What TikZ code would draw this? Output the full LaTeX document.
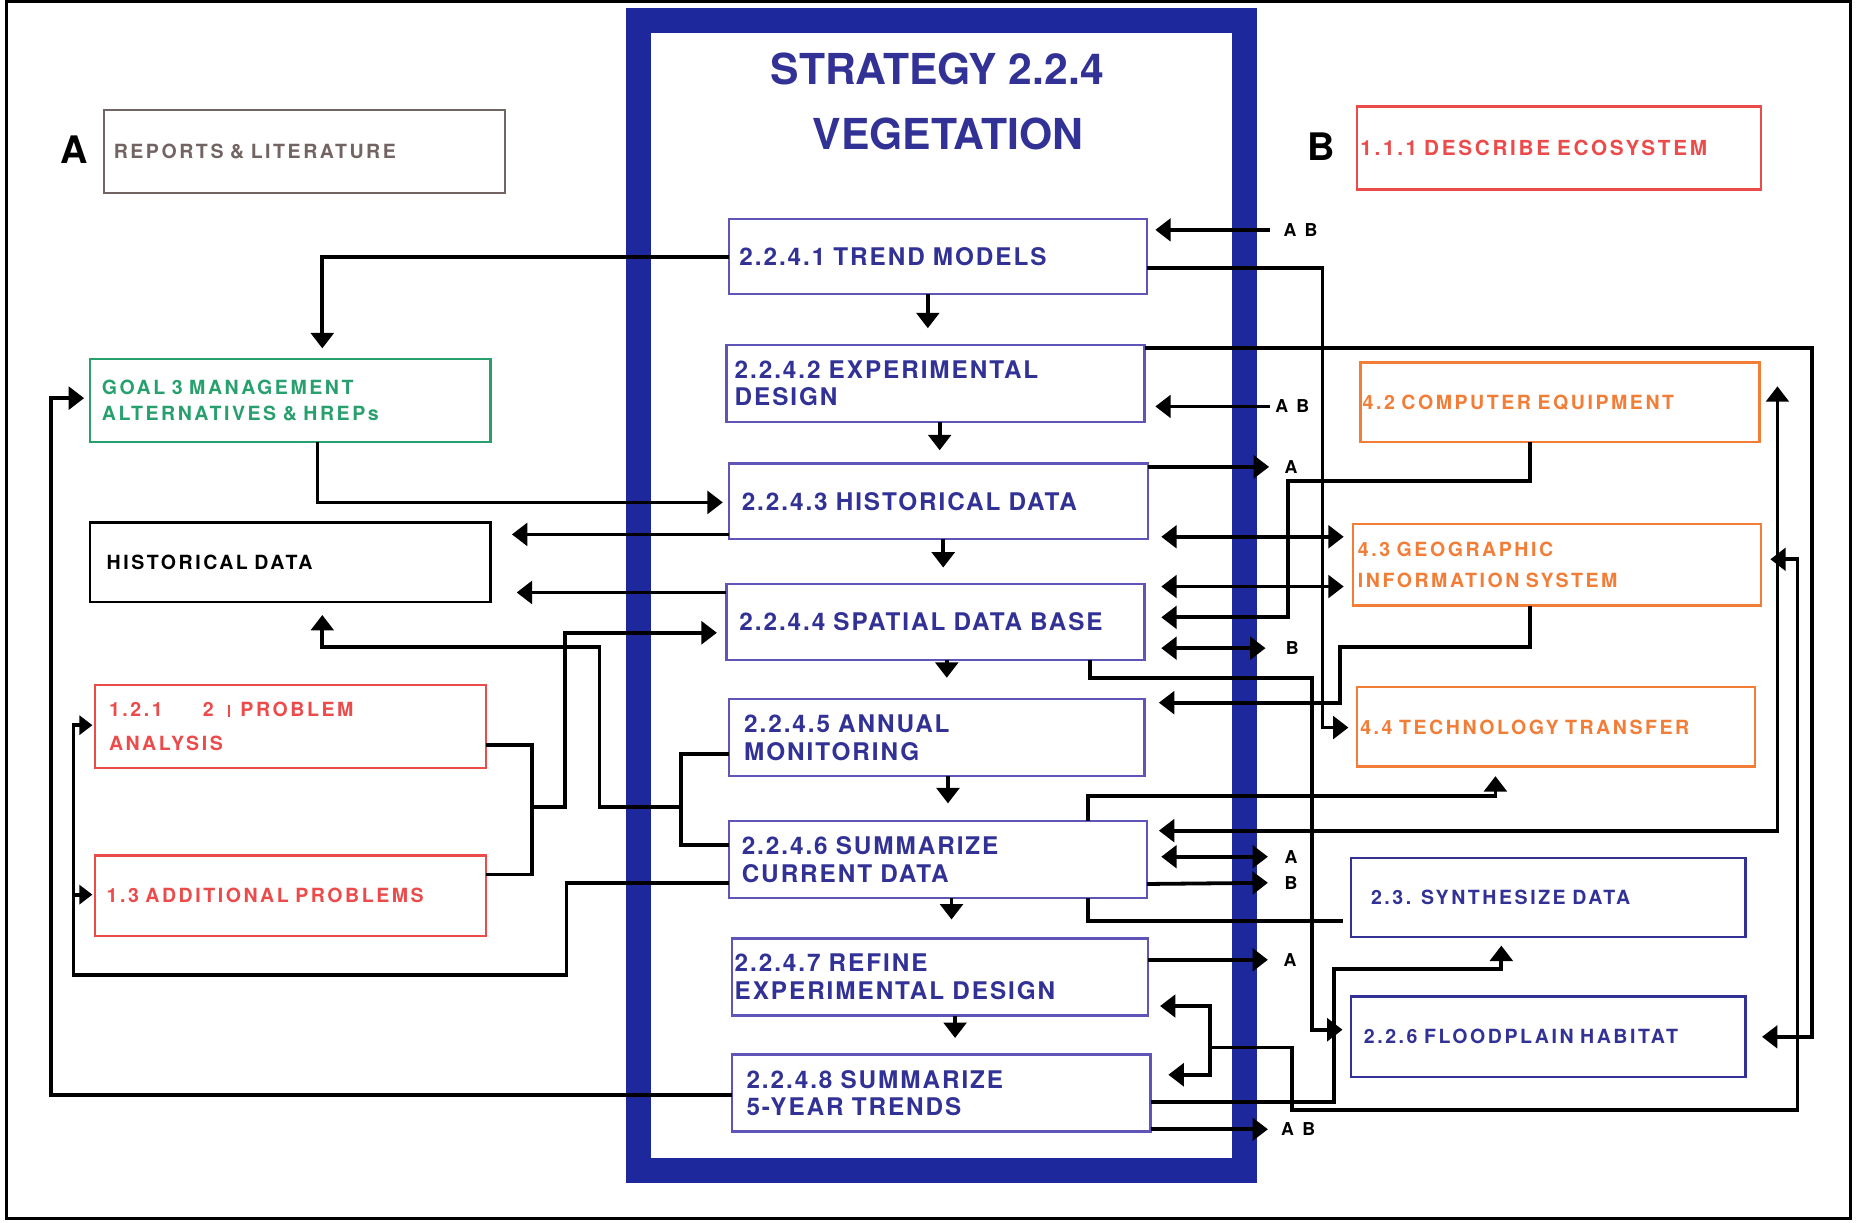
\documentclass[tikz,border=0pt]{standalone}
\usepackage{fontspec}
\setmainfont{TeX Gyre Heros}
\newfontfamily\fcen[LetterSpace=8,WordSpace=1.6]{TeX Gyre Heros}
\newfontfamily\fside[LetterSpace=13,WordSpace=1.6]{TeX Gyre Heros}
\usetikzlibrary{arrows.meta,calc}
\definecolor{frameblue}{RGB}{28,40,155}
\definecolor{ink}{RGB}{50,50,150}
\definecolor{cborder}{RGB}{95,85,185}
\definecolor{redc}{RGB}{235,75,75}
\definecolor{orangec}{RGB}{242,125,55}
\definecolor{greenc}{RGB}{40,160,110}
\definecolor{grayc}{RGB}{115,100,100}
\newcommand\bx[8]{%
  \pgfmathsetmacro\bxtw{#4-2*#7}%
  \node[#6, anchor=north west, inner xsep=#7pt, text width=\bxtw pt, minimum height=#5pt] (#1) at (#2,#3) {#8};}
\begin{document}
\begin{tikzpicture}[x=1pt,y=-1pt,
  conn/.style={line width=3.2pt},
  arr/.style={conn, -{Triangle[length=13pt,width=19pt]}},
  arrs/.style={conn, -{Triangle[length=11pt,width=16pt]}},
  arrb/.style={conn, {Triangle[length=13pt,width=19pt]}-{Triangle[length=13pt,width=19pt]}},
  cbox/.style={draw=cborder, line width=2pt, outer sep=0pt, text=ink, align=left, inner ysep=0pt,
    font=\fcen\bfseries\fontsize{20.5}{23.5}\selectfont},
  sbox/.style={line width=2pt, outer sep=0pt, align=left, inner ysep=0pt,
    font=\fside\bfseries\fontsize{16.5}{22}\selectfont},
  lab/.style={anchor=west, inner sep=0pt, font=\bfseries\fontsize{15}{15}\selectfont},
  big/.style={inner sep=0pt, font=\bfseries\fontsize{32}{32}\selectfont},
  titl/.style={inner sep=0pt, text=ink, font=\bfseries\fontsize{36}{40}\selectfont}]
\useasboundingbox (0,0) rectangle (1568,1032);
\node[draw, line width=2.5pt, outer sep=0pt, anchor=north west, minimum width=1556pt, minimum height=1027pt, inner sep=0pt] (outer) at (5.5,1.5) {};
\node[draw=frameblue, line width=21pt, outer sep=0pt, anchor=north west, minimum width=512pt, minimum height=970pt, inner sep=0pt] (frame) at (538.5,17.5) {};
\node[titl] (t1) at (791,58) {STRATEGY 2.2.4};
\node[titl] (t2) at (800,113) {VEGETATION};
\node[big] (bigA) at (63,126) {A};
\node[big] (bigB) at (1115,124) {B};
% centre boxes
\bx{b1}{615}{185}{353}{63}{cbox}{9}{2.2.4.1 TREND MODELS}
\bx{b2}{613}{291}{353}{65}{cbox}{7}{2.2.4.2 EXPERIMENTAL\\DESIGN}
\bx{b3}{615}{391}{354}{64}{cbox}{11}{2.2.4.3 HISTORICAL DATA}
\bx{b4}{613}{493}{353}{64}{cbox}{11}{2.2.4.4 SPATIAL DATA BASE}
\bx{b5}{615}{590}{351}{65}{cbox}{13}{2.2.4.5 ANNUAL\\MONITORING}
\bx{b6}{615}{693}{353}{65}{cbox}{11}{2.2.4.6 SUMMARIZE\\CURRENT DATA}
\bx{b7}{618}{792}{351}{65}{cbox}{2}{2.2.4.7 REFINE\\EXPERIMENTAL DESIGN}
\bx{b8}{618}{890}{353}{65}{cbox}{12}{2.2.4.8 SUMMARIZE\\5-YEAR TRENDS}
% left boxes
\bx{rep}{88}{93}{338}{70}{sbox, draw=grayc, text=grayc}{8}{REPORTS \& LITERATURE}
\bx{goal}{76}{303}{338}{70}{sbox, draw=greenc, text=greenc}{10}{GOAL 3 MANAGEMENT\\ALTERNATIVES \& HREPs}
\bx{hist}{76}{441}{338}{67}{sbox, draw=black, text=black}{14}{HISTORICAL DATA}
\bx{p121}{80}{578}{330}{70}{sbox, draw=redc, text=redc, font=\fside\bfseries\fontsize{16.5}{28}\selectfont}{12}{1.2.1\hspace*{34pt}2\hspace*{12pt}\rule{1.5pt}{10pt}\hspace*{9pt}PROBLEM\\ANALYSIS}
\bx{p13}{80}{722}{330}{68}{sbox, draw=redc, text=redc}{10}{1.3 ADDITIONAL PROBLEMS}
% right boxes
\bx{eco}{1145}{90}{341}{70}{sbox, draw=redc, text=redc, font=\fside\bfseries\fontsize{17.5}{22}\selectfont}{3}{1.1.1 DESCRIBE ECOSYSTEM}
\bx{comp}{1148}{306}{337}{67}{sbox, draw=orangec, text=orangec}{2}{4.2 COMPUTER EQUIPMENT}
\bx{gis}{1142}{442}{344}{69}{sbox, draw=orangec, text=orangec, font=\fside\bfseries\fontsize{16.5}{26}\selectfont}{4}{4.3 GEOGRAPHIC\\INFORMATION SYSTEM}
\bx{tech}{1145}{580}{336}{67}{sbox, draw=orangec, text=orangec}{3}{4.4 TECHNOLOGY TRANSFER}
\bx{syn}{1140}{724}{333}{67}{sbox, draw=ink, text=ink}{17}{2.3. SYNTHESIZE DATA}
\bx{flood}{1140}{841}{333}{68}{sbox, draw=ink, text=ink}{11}{2.2.6 FLOODPLAIN HABITAT}
% small labels
\node[lab] (lab1) at (1083,194) {A\hspace{7pt}B};
\node[lab] (lab2) at (1076,343) {A\hspace{7pt}B};
\node[lab] (lab3) at (1084,394) {A};
\node[lab] (lab4) at (1085,547) {B};
\node[lab] (lab5) at (1084,723) {A};
\node[lab] (lab6) at (1084,745) {B};
\node[lab] (lab7) at (1083,810) {A};
\node[lab] (lab8) at (1081,953) {A\hspace{7pt}B};
% down arrows in the column
\draw[arr] (783,0 |- b1.south) -- ($(783,0 |- b2.north)+(0,-14)$);
\draw[arr] (793,0 |- b2.south) -- ($(793,0 |- b3.north)+(0,-11)$);
\draw[arr] (796,0 |- b3.south) -- ($(796,0 |- b4.north)+(0,-14)$);
\draw[arr] (799,0 |- b4.south) -- ($(799,0 |- b5.north)+(0,-18)$);
\draw[arr] (800,0 |- b5.south) -- ($(800,0 |- b6.north)+(0,-15)$);
\draw[arr] (803,0 |- b6.south) -- ($(803,0 |- b7.north)+(0,-16)$);
\draw[arr] (806,0 |- b7.south) -- ($(806,0 |- b8.north)+(0,-14)$);
% right side
\draw[arr] ($(lab1.west)+(-11,0)$) -- ($(b1.east |- lab1.west)+(7,0)$);
\draw[arr] (b1.east |- 0,226) -| (1116,614) -- ($(tech.west |- 0,614)+(-7,0)$);
\draw[arr] (b2.east |- 0,294) -| (1529,875) -- ($(flood.east |- 0,875)+(14,0)$);
\draw[arr] ($(lab2.west)+(-4,0)$) -- ($(b2.east |- lab2.west)+(9,0)$);
\draw[arr] (b3.east |- 0,394) -- ($(lab3.west)+(-13,0)$);
\draw[arr] (1291,0 |- comp.south) |- (1087,406) |- ($(b4.east |- 0,521)+(14,0)$);
\draw[arrb] ($(b3.east |- 0,453)+(11,0)$) -- ($(gis.west |- 0,453)+(-8,0)$);
\draw[arrb] ($(b4.east |- 0,495)+(14,0)$) -- ($(gis.west |- 0,495)+(-8,0)$);
\draw[arrb] ($(b4.east |- 0,547)+(14,0)$) -- ($(lab4.west)+(-17,0)$);
\draw[arr] (920,0 |- b4.south) |- (1107,572) |- ($(flood.west |- 0,869)+(-7,0)$);
\draw[arr] (1291,0 |- gis.south) |- (1131,546) |- ($(b5.east |- 0,593)+(12,0)$);
\draw[arr] (918,0 |- b6.north) |- (1262,672) -- ($(1262,0 |- tech.south)+(0,8)$);
\draw[arrb] ($(b6.east |- 0,701)+(10,0)$) -| (1500,326);
\draw[arrb] ($(b6.east |- 0,723)+(12,0)$) -- ($(lab5.west)+(-14,0)$);
\draw[arr] (b6.east |- 0,746) -- ($(lab6.west)+(-14,0)$);
\draw[conn] (918,0 |- b6.south) |- ($(syn.west |- 0,777)+(-7,0)$);
\draw[arr] (b7.east |- 0,810) -- ($(lab7.west)+(-13,0)$);
\coordinate (j19) at (1021,884);
\draw[arr] (j19) -- (1090,884) -- (1090,937) -- (1517,937) -- (1517,472) -- ($(gis.east |- 0,472)+(8,0)$);
\draw[arr] (j19) |- ($(b7.east |- 0,849)+(10,0)$);
\draw[arr] (j19) |- ($(b8.east |- 0,907)+(15,0)$);
\draw[arr] (b8.east |- 0,930) -- (1126,930) -- (1126,818) -| ($(1267,0 |- syn.south)+(0,7)$);
\draw[arr] (b8.east |- 0,953) -- ($(lab8.west)+(-11,0)$);
% left side
\draw[arr] (b1.west |- 0,217) -| ($(272,0 |- goal.north)+(0,-9)$);
\draw[arr] (268,0 |- goal.south) |- ($(b3.west |- 0,424)+(-5,0)$);
\draw[arr] (b3.west |- 0,451) -- ($(hist.east |- 0,451)+(18,0)$);
\draw[arr] (b4.west |- 0,500) -- ($(hist.east |- 0,500)+(22,0)$);
\draw[conn] (p121.east |- 0,629) -| (449,681) |- (p13.east |- 0,738);
\draw[arr] (449,681) -| (477,534) -- ($(b4.west |- 0,534)+(-8,0)$);
\draw[conn] (b5.west |- 0,636) -| (575,681) |- (b6.west |- 0,713);
\draw[arr] (575,681) -| (506,546) -| ($(272,0 |- hist.south)+(0,11)$);
\draw[arrs] (b6.west |- 0,745) -| (478,823) -| (62,755) |- ($(p121.west |- 0,612)+(-2,0)$);
\draw[arrs] (62,755) -- ($(p13.west |- 0,755)+(-2,0)$);
\draw[arr] (b8.west |- 0,924) -| (43,336) -- ($(goal.west |- 0,336)+(-5,0)$);
\end{tikzpicture}
\end{document}
